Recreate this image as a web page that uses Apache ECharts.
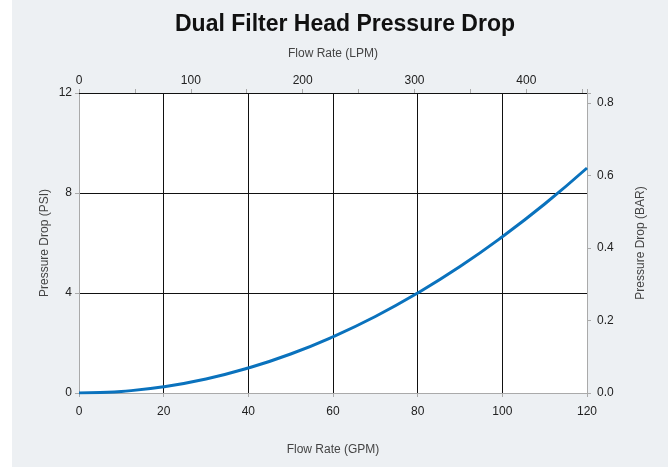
<!DOCTYPE html>
<html>
<head>
<meta charset="utf-8">
<script src="https://cdn.jsdelivr.net/npm/echarts@6/dist/echarts.min.js"></script>
<style>
  html, body { margin: 0; padding: 0; background: #fff; }
  #main { position: absolute; left: 12px; top: 0; width: 656px; height: 467px; }
</style>
</head>
<body>
<div id="main"></div>
<script>
// flow in GPM and pressure drop in PSI
var flowGpm = [0, 5, 10, 20, 30, 40, 50, 60, 70, 80, 90, 100, 110, 120];
var dropPsi = [0, 0.02, 0.06, 0.25, 0.56, 1.0, 1.56, 2.25, 3.06, 4.0, 5.06, 6.25, 7.56, 9.0];

var psiTicks = [0, 4, 8, 12];
var barTicks = [0.0, 0.2, 0.4, 0.6, 0.8];
var lpmTicks = [0, 100, 200, 300, 400];

var labelFont = { fontFamily: 'Liberation Sans, Arial, sans-serif', fontSize: 12, color: '#222' };
var nameFont = { fontFamily: 'Liberation Sans, Arial, sans-serif', fontSize: 12, color: '#444' };

var myChart = echarts.init(document.getElementById('main'));
var option = {
  backgroundColor: '#edf0f3',
  animation: false,
  title: {
    text: 'Dual Filter Head Pressure Drop',
    left: 328, top: 8, textAlign: 'center',
    textStyle: { fontFamily: 'Liberation Sans, Arial, sans-serif', fontSize: 23, fontWeight: 'bold', color: '#111' }
  },
  grid: { left: 67, right: 81, top: 93, bottom: 74, show: true, backgroundColor: '#fff', borderWidth: 0 },
  xAxis: [
    {
      type: 'value', position: 'bottom', min: 0, max: 120, interval: 20,
      name: 'Flow Rate (GPM)', nameLocation: 'middle', nameGap: 51, nameTextStyle: nameFont,
      axisLine: { show: true, onZero: false, lineStyle: { color: '#aaa', width: 1 } },
      axisTick: { show: true, length: 4, lineStyle: { color: '#aaa' } },
      axisLabel: Object.assign({ margin: 13 }, labelFont),
      splitLine: { show: true, lineStyle: { color: '#111', width: 1 } }
    },
    {
      type: 'value', position: 'top', min: 0, max: 120 * 3.78541, interval: 50,
      name: 'Flow Rate (LPM)', nameLocation: 'middle', nameGap: 33, nameTextStyle: nameFont,
      axisLine: { show: true, onZero: false, lineStyle: { color: '#111', width: 1 } },
      axisTick: { show: true, length: 4, lineStyle: { color: '#aaa' } },
      axisLabel: Object.assign({
        margin: 6,
        formatter: function (v) { return lpmTicks.indexOf(v) >= 0 ? String(v) : ''; }
      }, labelFont),
      splitLine: { show: false }
    }
  ],
  yAxis: [
    {
      type: 'value', position: 'left', min: 0, max: 12, interval: 4,
      name: 'Pressure Drop (PSI)', nameLocation: 'middle', nameGap: 28, nameMoveOverlap: false, nameTextStyle: nameFont,
      axisLine: { show: true, onZero: false, lineStyle: { color: '#aaa', width: 1 } },
      axisTick: { show: true, length: 4, lineStyle: { color: '#aaa' } },
      axisLabel: Object.assign({ margin: 7 }, labelFont),
      splitLine: { show: true, lineStyle: { color: '#111', width: 1 } }
    },
    {
      type: 'value', position: 'right', min: 0, max: 12 * 0.0689476, interval: 0.2,
      name: 'Pressure Drop (BAR)', nameLocation: 'middle', nameGap: 48, nameTextStyle: nameFont,
      axisLine: { show: true, onZero: false, lineStyle: { color: '#aaa', width: 1 } },
      axisTick: { show: true, length: 4, lineStyle: { color: '#aaa' } },
      axisLabel: Object.assign({
        margin: 10,
        formatter: function (v) { return barTicks.indexOf(Math.round(v * 10) / 10) >= 0 && Math.abs(v * 10 - Math.round(v * 10)) < 1e-6 ? v.toFixed(1) : ''; }
      }, labelFont),
      splitLine: { show: false }
    }
  ],
  series: [
    {
      type: 'line', xAxisIndex: 0, yAxisIndex: 0, smooth: true, symbol: 'none',
      lineStyle: { color: '#0a72bd', width: 3 },
      data: flowGpm.map(function (q, i) { return [q, dropPsi[i]]; })
    }
  ]
};
myChart.setOption(option);
</script>
</body>
</html>
